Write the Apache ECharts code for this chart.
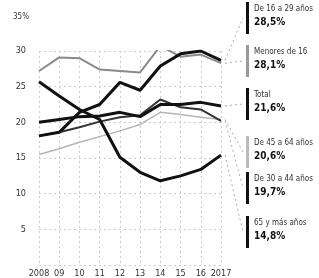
<!DOCTYPE html>
<html>
<head>
<meta charset="utf-8">
<script src="https://cdn.jsdelivr.net/npm/echarts@6/dist/echarts.min.js"></script>
<style>
html,body{margin:0;padding:0;background:#fff;}
#main{width:319px;height:278px;}
</style>
</head>
<body>
<div id="main"></div>
<script>
var years=['2008','09','10','11','12','13','14','15','16','2017'];
var menores=[27.2,29.1,29.0,27.4,27.2,27.0,30.7,29.2,29.5,28.3];
var jovenes=[18.1,18.6,21.4,22.5,25.6,24.5,27.9,29.6,30.0,28.7];
var total=[20.0,20.4,20.8,20.9,21.4,20.8,22.5,22.5,22.8,22.3];
var de4564=[15.5,16.3,17.2,18.0,18.8,19.7,21.4,21.1,20.7,20.4];
var de3044=[18.1,18.6,19.3,20.1,20.7,21.0,23.2,22.1,21.8,20.2];
var mayores=[25.7,23.7,21.8,20.4,15.1,13.0,11.8,12.5,13.4,15.4];

// etiquetas del panel derecho
var labelNames=['De 16 a 29 años','Menores de 16','Total','De 45 a 64 años','De 30 a 44 años','65 y más años'];
var labelValues=['28,5%','28,1%','21,6%','20,6%','19,7%','14,8%'];

var font='"DejaVu Sans Condensed","Liberation Sans Narrow",sans-serif';

var myChart=echarts.init(document.getElementById('main'));

function serie(name,data,color,width){
	return {
		name:name,
		type:'line',
		data:data,
		symbol:'none',
		lineStyle:{color:color,width:width},
		z:width
	};
}

var option={
	animation:false,
	grid:{left:39,right:98,top:51,bottom:13},
	xAxis:{
		type:'category',
		data:years,
		boundaryGap:false,
		axisLine:{show:false},
		axisTick:{show:false},
		axisLabel:{color:'#333',fontSize:9,fontFamily:font,margin:4,interval:0,hideOverlap:false},
		splitLine:{show:true,interval:0,lineStyle:{color:'#ccc',type:[2,3],width:1}}
	},
	yAxis:{
		type:'value',
		min:0,
		max:30,
		interval:5,
		name:'35%',
		nameLocation:'end',
		nameGap:30,
		nameTextStyle:{color:'#333',fontSize:8,fontFamily:font,align:'right',padding:[0,10,0,0]},
		axisLine:{show:false},
		axisTick:{show:false},
		axisLabel:{color:'#333',fontSize:9,fontFamily:font,margin:13,
			formatter:function(v){return v==0?'':v;}},
		splitLine:{show:true,lineStyle:{color:'#ccc',type:[2,3],width:1}}
	},
	series:[
		serie('De 45 a 64 años',de4564,'#b5b5b5',1.5),
		serie('Menores de 16',menores,'#8a8a8a',2),
		serie('De 30 a 44 años',de3044,'#333',2),
		serie('Total',total,'#111',3),
		serie('65 y más años',mayores,'#111',3),
		serie('De 16 a 29 años',jovenes,'#111',3)
	]
};
myChart.setOption(option);

// panel de etiquetas con conectores
var ends=[jovenes,menores,total,de4564,de3044,mayores];
var barColors=['#111','#999','#111','#bbb','#111','#111'];
var tops=[2,45,88,136,172,216];
var elements=[];
for(var i=0;i<labelNames.length;i++){
	var t=tops[i];
	elements.push({type:'rect',shape:{x:246,y:t,width:3,height:32},style:{fill:barColors[i]}});
	elements.push({type:'text',x:254,y:t+3,style:{text:labelNames[i],fill:'#333',fontSize:8,fontFamily:font}});
	elements.push({type:'text',x:254,y:t+15,style:{text:labelValues[i],fill:'#111',fontSize:10,fontWeight:'bold',fontFamily:font}});
	var p=myChart.convertToPixel({gridIndex:0},[years.length-1,ends[i][ends[i].length-1]]);
	elements.push({type:'line',shape:{x1:p[0]+4,y1:p[1],x2:243,y2:t+16},
		style:{stroke:'#aaa',lineWidth:1,lineDash:[2,3]}});
}
myChart.setOption({graphic:{elements:elements}});
</script>
</body>
</html>
